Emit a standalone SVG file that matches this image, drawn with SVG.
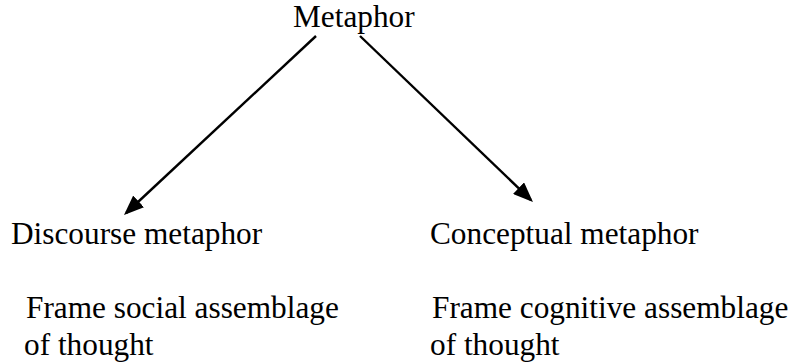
<svg xmlns="http://www.w3.org/2000/svg" width="790" height="364" viewBox="0 0 790 364">
  <style>
    .lbl { font-family: "Liberation Serif", "Times New Roman", serif; font-size: 31.3px; fill: #000; }
    .edge { stroke: #000; stroke-width: 2.4; fill: none; }
  </style>
  <defs>
    <marker id="arrow" viewBox="0 0 20 16" markerWidth="20" markerHeight="16" refX="17" refY="8" orient="auto" markerUnits="userSpaceOnUse">
      <path d="M0,0 L20,8 L0,16 z" fill="#000"/>
    </marker>
  </defs>
  <rect width="790" height="364" fill="#fff"/>

  <!-- root -->
  <g id="metaphor">
    <text class="lbl" x="293" y="27">Metaphor</text>
  </g>

  <!-- left branch -->
  <g id="discourse">
    <text class="lbl" x="11" y="244">Discourse metaphor</text>
    <text class="lbl" x="26" y="318">Frame social assemblage</text>
    <text class="lbl" x="24" y="355">of thought</text>
  </g>

  <!-- right branch -->
  <g id="conceptual">
    <text class="lbl" x="430" y="244">Conceptual metaphor</text>
    <text class="lbl" x="432" y="318">Frame cognitive assemblage</text>
    <text class="lbl" x="430" y="355">of thought</text>
  </g>

  <!-- connectors: lines stop 3px short of the tips, markers carry the points -->
  <g id="connectors">
    <line class="edge" x1="316" y1="36" x2="126.2" y2="213" marker-end="url(#arrow)"/>
    <line class="edge" x1="360" y1="36" x2="530.8" y2="199.9" marker-end="url(#arrow)"/>
  </g>
</svg>
